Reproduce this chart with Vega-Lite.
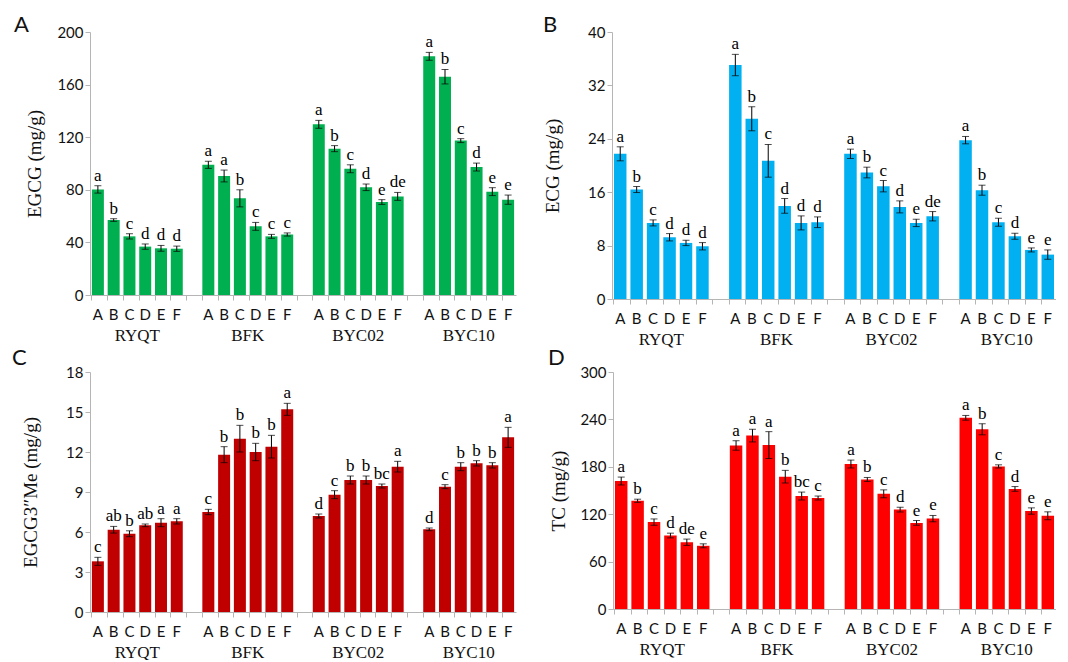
{
"$schema":"https://vega.github.io/schema/vega-lite/v6.json",
"padding":{"left":12,"top":14,"right":0,"bottom":0},
"background":"white",
"data":{"values":[
{"p":"EGCG","g":"RYQT","k":"RYQT_A","m":80.3,"lo":77.5,"hi":83.1,"s":"a"},
{"p":"EGCG","g":"RYQT","k":"RYQT_B","m":57,"lo":56,"hi":58,"s":"b"},
{"p":"EGCG","g":"RYQT","k":"RYQT_C","m":44.6,"lo":42.6,"hi":46.6,"s":"c"},
{"p":"EGCG","g":"RYQT","k":"RYQT_D","m":36.8,"lo":34.8,"hi":38.8,"s":"d"},
{"p":"EGCG","g":"RYQT","k":"RYQT_E","m":35.5,"lo":33.3,"hi":37.7,"s":"d"},
{"p":"EGCG","g":"RYQT","k":"RYQT_F","m":35.2,"lo":33.2,"hi":37.2,"s":"d"},
{"p":"EGCG","g":"BFK","k":"BFK_A","m":99,"lo":96.3,"hi":101.7,"s":"a"},
{"p":"EGCG","g":"BFK","k":"BFK_B","m":90.5,"lo":86,"hi":95,"s":"a"},
{"p":"EGCG","g":"BFK","k":"BFK_C","m":73.5,"lo":67,"hi":80,"s":"b"},
{"p":"EGCG","g":"BFK","k":"BFK_D","m":52.2,"lo":49.2,"hi":55.2,"s":"c"},
{"p":"EGCG","g":"BFK","k":"BFK_E","m":44.6,"lo":43.1,"hi":46.1,"s":"c"},
{"p":"EGCG","g":"BFK","k":"BFK_F","m":46,"lo":44.8,"hi":47.2,"s":"c"},
{"p":"EGCG","g":"BYC02","k":"BYC02_A","m":129.8,"lo":126.8,"hi":132.8,"s":"a"},
{"p":"EGCG","g":"BYC02","k":"BYC02_B","m":111.3,"lo":109,"hi":113.6,"s":"b"},
{"p":"EGCG","g":"BYC02","k":"BYC02_C","m":96,"lo":93,"hi":99,"s":"c"},
{"p":"EGCG","g":"BYC02","k":"BYC02_D","m":81.9,"lo":79.4,"hi":84.4,"s":"d"},
{"p":"EGCG","g":"BYC02","k":"BYC02_E","m":70.7,"lo":68.9,"hi":72.5,"s":"e"},
{"p":"EGCG","g":"BYC02","k":"BYC02_F","m":75,"lo":72,"hi":78,"s":"de"},
{"p":"EGCG","g":"BYC10","k":"BYC10_A","m":181.5,"lo":178.5,"hi":184.5,"s":"a"},
{"p":"EGCG","g":"BYC10","k":"BYC10_B","m":166,"lo":160.5,"hi":171.5,"s":"b"},
{"p":"EGCG","g":"BYC10","k":"BYC10_C","m":117.4,"lo":115.9,"hi":118.9,"s":"c"},
{"p":"EGCG","g":"BYC10","k":"BYC10_D","m":97.3,"lo":94.3,"hi":100.3,"s":"d"},
{"p":"EGCG","g":"BYC10","k":"BYC10_E","m":78.6,"lo":75.6,"hi":81.6,"s":"e"},
{"p":"EGCG","g":"BYC10","k":"BYC10_F","m":72.5,"lo":69,"hi":76,"s":"e"},
{"p":"ECG","g":"RYQT","k":"RYQT_A","m":21.75,"lo":20.7,"hi":22.8,"s":"a"},
{"p":"ECG","g":"RYQT","k":"RYQT_B","m":16.4,"lo":15.95,"hi":16.85,"s":"b"},
{"p":"ECG","g":"RYQT","k":"RYQT_C","m":11.4,"lo":10.95,"hi":11.85,"s":"c"},
{"p":"ECG","g":"RYQT","k":"RYQT_D","m":9.25,"lo":8.7,"hi":9.8,"s":"d"},
{"p":"ECG","g":"RYQT","k":"RYQT_E","m":8.4,"lo":8.0,"hi":8.8,"s":"d"},
{"p":"ECG","g":"RYQT","k":"RYQT_F","m":7.9,"lo":7.35,"hi":8.45,"s":"d"},
{"p":"ECG","g":"BFK","k":"BFK_A","m":35.05,"lo":33.45,"hi":36.65,"s":"a"},
{"p":"ECG","g":"BFK","k":"BFK_B","m":27,"lo":25.2,"hi":28.8,"s":"b"},
{"p":"ECG","g":"BFK","k":"BFK_C","m":20.7,"lo":18.25,"hi":23.15,"s":"c"},
{"p":"ECG","g":"BFK","k":"BFK_D","m":13.95,"lo":12.85,"hi":15.05,"s":"d"},
{"p":"ECG","g":"BFK","k":"BFK_E","m":11.4,"lo":10.35,"hi":12.45,"s":"d"},
{"p":"ECG","g":"BFK","k":"BFK_F","m":11.5,"lo":10.7,"hi":12.3,"s":"d"},
{"p":"ECG","g":"BYC02","k":"BYC02_A","m":21.75,"lo":21.05,"hi":22.45,"s":"a"},
{"p":"ECG","g":"BYC02","k":"BYC02_B","m":18.95,"lo":18.15,"hi":19.75,"s":"b"},
{"p":"ECG","g":"BYC02","k":"BYC02_C","m":16.9,"lo":16.05,"hi":17.75,"s":"c"},
{"p":"ECG","g":"BYC02","k":"BYC02_D","m":13.8,"lo":12.9,"hi":14.7,"s":"d"},
{"p":"ECG","g":"BYC02","k":"BYC02_E","m":11.4,"lo":10.85,"hi":11.95,"s":"e"},
{"p":"ECG","g":"BYC02","k":"BYC02_F","m":12.4,"lo":11.7,"hi":13.1,"s":"de"},
{"p":"ECG","g":"BYC10","k":"BYC10_A","m":23.8,"lo":23.25,"hi":24.35,"s":"a"},
{"p":"ECG","g":"BYC10","k":"BYC10_B","m":16.3,"lo":15.55,"hi":17.05,"s":"b"},
{"p":"ECG","g":"BYC10","k":"BYC10_C","m":11.5,"lo":10.9,"hi":12.1,"s":"c"},
{"p":"ECG","g":"BYC10","k":"BYC10_D","m":9.4,"lo":8.95,"hi":9.85,"s":"d"},
{"p":"ECG","g":"BYC10","k":"BYC10_E","m":7.35,"lo":7.05,"hi":7.65,"s":"e"},
{"p":"ECG","g":"BYC10","k":"BYC10_F","m":6.65,"lo":5.95,"hi":7.35,"s":"e"},
{"p":"Me","g":"RYQT","k":"RYQT_A","m":3.8,"lo":3.5,"hi":4.1,"s":"c"},
{"p":"Me","g":"RYQT","k":"RYQT_B","m":6.17,"lo":5.92,"hi":6.42,"s":"ab"},
{"p":"Me","g":"RYQT","k":"RYQT_C","m":5.87,"lo":5.65,"hi":6.09,"s":"b"},
{"p":"Me","g":"RYQT","k":"RYQT_D","m":6.5,"lo":6.4,"hi":6.6,"s":"ab"},
{"p":"Me","g":"RYQT","k":"RYQT_E","m":6.7,"lo":6.4,"hi":7.0,"s":"a"},
{"p":"Me","g":"RYQT","k":"RYQT_F","m":6.8,"lo":6.6,"hi":7.0,"s":"a"},
{"p":"Me","g":"BFK","k":"BFK_A","m":7.5,"lo":7.3,"hi":7.7,"s":"c"},
{"p":"Me","g":"BFK","k":"BFK_B","m":11.8,"lo":11.2,"hi":12.4,"s":"b"},
{"p":"Me","g":"BFK","k":"BFK_C","m":13.0,"lo":12.0,"hi":14.0,"s":"b"},
{"p":"Me","g":"BFK","k":"BFK_D","m":12.0,"lo":11.35,"hi":12.65,"s":"b"},
{"p":"Me","g":"BFK","k":"BFK_E","m":12.4,"lo":11.55,"hi":13.25,"s":"b"},
{"p":"Me","g":"BFK","k":"BFK_F","m":15.2,"lo":14.75,"hi":15.65,"s":"a"},
{"p":"Me","g":"BYC02","k":"BYC02_A","m":7.2,"lo":7.05,"hi":7.35,"s":"d"},
{"p":"Me","g":"BYC02","k":"BYC02_B","m":8.8,"lo":8.5,"hi":9.1,"s":"c"},
{"p":"Me","g":"BYC02","k":"BYC02_C","m":9.9,"lo":9.6,"hi":10.2,"s":"b"},
{"p":"Me","g":"BYC02","k":"BYC02_D","m":9.9,"lo":9.6,"hi":10.2,"s":"b"},
{"p":"Me","g":"BYC02","k":"BYC02_E","m":9.45,"lo":9.3,"hi":9.6,"s":"bc"},
{"p":"Me","g":"BYC02","k":"BYC02_F","m":10.9,"lo":10.5,"hi":11.3,"s":"a"},
{"p":"Me","g":"BYC10","k":"BYC10_A","m":6.2,"lo":6.1,"hi":6.3,"s":"d"},
{"p":"Me","g":"BYC10","k":"BYC10_B","m":9.4,"lo":9.25,"hi":9.55,"s":"c"},
{"p":"Me","g":"BYC10","k":"BYC10_C","m":10.9,"lo":10.6,"hi":11.2,"s":"b"},
{"p":"Me","g":"BYC10","k":"BYC10_D","m":11.15,"lo":10.95,"hi":11.35,"s":"b"},
{"p":"Me","g":"BYC10","k":"BYC10_E","m":11.0,"lo":10.8,"hi":11.2,"s":"b"},
{"p":"Me","g":"BYC10","k":"BYC10_F","m":13.1,"lo":12.35,"hi":13.85,"s":"a"},
{"p":"TC","g":"RYQT","k":"RYQT_A","m":162,"lo":157,"hi":167,"s":"a"},
{"p":"TC","g":"RYQT","k":"RYQT_B","m":137,"lo":135,"hi":139,"s":"b"},
{"p":"TC","g":"RYQT","k":"RYQT_C","m":110,"lo":106,"hi":114,"s":"c"},
{"p":"TC","g":"RYQT","k":"RYQT_D","m":93,"lo":90,"hi":96,"s":"d"},
{"p":"TC","g":"RYQT","k":"RYQT_E","m":84.5,"lo":80.5,"hi":88.5,"s":"de"},
{"p":"TC","g":"RYQT","k":"RYQT_F","m":80,"lo":77.5,"hi":82.5,"s":"e"},
{"p":"TC","g":"BFK","k":"BFK_A","m":207,"lo":201,"hi":213,"s":"a"},
{"p":"TC","g":"BFK","k":"BFK_B","m":219.5,"lo":211.5,"hi":227.5,"s":"a"},
{"p":"TC","g":"BFK","k":"BFK_C","m":207.5,"lo":190.5,"hi":224.5,"s":"a"},
{"p":"TC","g":"BFK","k":"BFK_D","m":167.5,"lo":159.5,"hi":175.5,"s":"b"},
{"p":"TC","g":"BFK","k":"BFK_E","m":143,"lo":138,"hi":148,"s":"bc"},
{"p":"TC","g":"BFK","k":"BFK_F","m":140.5,"lo":138,"hi":143,"s":"c"},
{"p":"TC","g":"BYC02","k":"BYC02_A","m":183.5,"lo":178.5,"hi":188.5,"s":"a"},
{"p":"TC","g":"BYC02","k":"BYC02_B","m":164,"lo":161.5,"hi":166.5,"s":"b"},
{"p":"TC","g":"BYC02","k":"BYC02_C","m":145.8,"lo":140.8,"hi":150.8,"s":"c"},
{"p":"TC","g":"BYC02","k":"BYC02_D","m":125.8,"lo":122.8,"hi":128.8,"s":"d"},
{"p":"TC","g":"BYC02","k":"BYC02_E","m":109,"lo":106,"hi":112,"s":"e"},
{"p":"TC","g":"BYC02","k":"BYC02_F","m":114.4,"lo":110.4,"hi":118.4,"s":"e"},
{"p":"TC","g":"BYC10","k":"BYC10_A","m":242,"lo":239,"hi":245,"s":"a"},
{"p":"TC","g":"BYC10","k":"BYC10_B","m":227.5,"lo":220.5,"hi":234.5,"s":"b"},
{"p":"TC","g":"BYC10","k":"BYC10_C","m":180.5,"lo":178.5,"hi":182.5,"s":"c"},
{"p":"TC","g":"BYC10","k":"BYC10_D","m":152,"lo":149,"hi":155,"s":"d"},
{"p":"TC","g":"BYC10","k":"BYC10_E","m":124,"lo":120,"hi":128,"s":"e"},
{"p":"TC","g":"BYC10","k":"BYC10_F","m":118,"lo":113,"hi":123,"s":"e"}
]},
"vconcat":[
{"hconcat":[
{"title":{"text":"A","dx":-76,"dy":16},
 "width":426,"height":263,
 "transform":[{"filter":"datum.p==='EGCG'"}],
 "layer":[
  {"layer":[
   {"mark":{"type":"bar","color":"#00b050"},
    "encoding":{"x":{"field":"k","type":"nominal","sort":null,"scale":{"domain":["RYQT_A","RYQT_B","RYQT_C","RYQT_D","RYQT_E","RYQT_F","gap1","BFK_A","BFK_B","BFK_C","BFK_D","BFK_E","BFK_F","gap2","BYC02_A","BYC02_B","BYC02_C","BYC02_D","BYC02_E","BYC02_F","gap3","BYC10_A","BYC10_B","BYC10_C","BYC10_D","BYC10_E","BYC10_F"],"paddingInner":0.24,"paddingOuter":0.12},
      "axis":{"title":null,"labelExpr":"indexof(datum.value,'gap')>=0 ? '' : slice(datum.value,-1)","bandPosition":0,"labelPadding":7,"labelAngle":0,"orient":"bottom"}},
     "y":{"field":"m","type":"quantitative","title":"EGCG (mg/g)","scale":{"domain":[0,200],"nice":false},"axis":{"values":[0,40,80,120,160,200],"labelOverlap":false,"titlePadding":12}}}},
   {"mark":{"type":"errorbar","color":"black","thickness":1,"ticks":{"size":7,"color":"black"}},
    "encoding":{"x":{"field":"k","type":"nominal"},"y":{"field":"lo","type":"quantitative","title":"EGCG (mg/g)","axis":{"values":[0,40,80,120,160,200],"labelOverlap":false,"titlePadding":12}},"y2":{"field":"hi"}}},
   {"mark":{"type":"text","dy":-10,"font":"Liberation Serif","fontSize":17,"color":"black"},
    "encoding":{"x":{"field":"k","type":"nominal"},"y":{"field":"hi","type":"quantitative","title":"EGCG (mg/g)","axis":{"values":[0,40,80,120,160,200],"labelOverlap":false,"titlePadding":12}},"text":{"field":"s"}}}
  ]},
  {"mark":{"type":"rule","strokeOpacity":0},
   "encoding":{"x":{"field":"g","type":"nominal","sort":null,"scale":{"type":"band","domain":["RYQT","BFK","BYC02","BYC10"],"paddingInner":0.142857,"paddingOuter":0},
     "axis":{"title":null,"orient":"bottom","offset":30,"domain":false,"ticks":false,"labelPadding":2,"labelAngle":0,"labelFont":"Liberation Serif","labelFontSize":17}}}}
 ],
 "resolve":{"scale":{"x":"independent"},"axis":{"x":"independent"}}
},
{"title":{"text":"B","dx":-69,"dy":16},
 "width":444,"height":267,
 "transform":[{"filter":"datum.p==='ECG'"}],
 "layer":[
  {"layer":[
   {"mark":{"type":"bar","color":"#00b0f0"},
    "encoding":{"x":{"field":"k","type":"nominal","sort":null,"scale":{"domain":["RYQT_A","RYQT_B","RYQT_C","RYQT_D","RYQT_E","RYQT_F","gap1","BFK_A","BFK_B","BFK_C","BFK_D","BFK_E","BFK_F","gap2","BYC02_A","BYC02_B","BYC02_C","BYC02_D","BYC02_E","BYC02_F","gap3","BYC10_A","BYC10_B","BYC10_C","BYC10_D","BYC10_E","BYC10_F"],"paddingInner":0.24,"paddingOuter":0.12},
      "axis":{"title":null,"labelExpr":"indexof(datum.value,'gap')>=0 ? '' : slice(datum.value,-1)","bandPosition":0,"labelPadding":7,"labelAngle":0,"orient":"bottom"}},
     "y":{"field":"m","type":"quantitative","title":"ECG (mg/g)","scale":{"domain":[0,40],"nice":false},"axis":{"values":[0,8,16,24,32,40],"labelOverlap":false,"titlePadding":25}}}},
   {"mark":{"type":"errorbar","color":"black","thickness":1,"ticks":{"size":7,"color":"black"}},
    "encoding":{"x":{"field":"k","type":"nominal"},"y":{"field":"lo","type":"quantitative","title":"ECG (mg/g)","axis":{"values":[0,8,16,24,32,40],"labelOverlap":false,"titlePadding":25}},"y2":{"field":"hi"}}},
   {"mark":{"type":"text","dy":-10,"font":"Liberation Serif","fontSize":17,"color":"black"},
    "encoding":{"x":{"field":"k","type":"nominal"},"y":{"field":"hi","type":"quantitative","title":"ECG (mg/g)","axis":{"values":[0,8,16,24,32,40],"labelOverlap":false,"titlePadding":25}},"text":{"field":"s"}}}
  ]},
  {"mark":{"type":"rule","strokeOpacity":0},
   "encoding":{"x":{"field":"g","type":"nominal","sort":null,"scale":{"type":"band","domain":["RYQT","BFK","BYC02","BYC10"],"paddingInner":0.142857,"paddingOuter":0},
     "axis":{"title":null,"orient":"bottom","offset":30,"domain":false,"ticks":false,"labelPadding":2,"labelAngle":0,"labelFont":"Liberation Serif","labelFontSize":17}}}}
 ],
 "resolve":{"scale":{"x":"independent"},"axis":{"x":"independent"}}
}
],"spacing":27},
{"hconcat":[
{"title":{"text":"C","dx":-78,"dy":9},
 "width":426,"height":240,
 "transform":[{"filter":"datum.p==='Me'"}],
 "layer":[
  {"layer":[
   {"mark":{"type":"bar","color":"#c00000"},
    "encoding":{"x":{"field":"k","type":"nominal","sort":null,"scale":{"domain":["RYQT_A","RYQT_B","RYQT_C","RYQT_D","RYQT_E","RYQT_F","gap1","BFK_A","BFK_B","BFK_C","BFK_D","BFK_E","BFK_F","gap2","BYC02_A","BYC02_B","BYC02_C","BYC02_D","BYC02_E","BYC02_F","gap3","BYC10_A","BYC10_B","BYC10_C","BYC10_D","BYC10_E","BYC10_F"],"paddingInner":0.24,"paddingOuter":0.12},
      "axis":{"title":null,"labelExpr":"indexof(datum.value,'gap')>=0 ? '' : slice(datum.value,-1)","bandPosition":0,"labelPadding":7,"labelAngle":0,"orient":"bottom"}},
     "y":{"field":"m","type":"quantitative","title":"EGCG3″Me (mg/g)","scale":{"domain":[0,18],"nice":false},"axis":{"values":[0,3,6,9,12,15,18],"labelOverlap":false,"titlePadding":25}}}},
   {"mark":{"type":"errorbar","color":"black","thickness":1,"ticks":{"size":7,"color":"black"}},
    "encoding":{"x":{"field":"k","type":"nominal"},"y":{"field":"lo","type":"quantitative","title":"EGCG3″Me (mg/g)","axis":{"values":[0,3,6,9,12,15,18],"labelOverlap":false,"titlePadding":25}},"y2":{"field":"hi"}}},
   {"mark":{"type":"text","dy":-10,"font":"Liberation Serif","fontSize":17,"color":"black"},
    "encoding":{"x":{"field":"k","type":"nominal"},"y":{"field":"hi","type":"quantitative","title":"EGCG3″Me (mg/g)","axis":{"values":[0,3,6,9,12,15,18],"labelOverlap":false,"titlePadding":25}},"text":{"field":"s"}}}
  ]},
  {"mark":{"type":"rule","strokeOpacity":0},
   "encoding":{"x":{"field":"g","type":"nominal","sort":null,"scale":{"type":"band","domain":["RYQT","BFK","BYC02","BYC10"],"paddingInner":0.142857,"paddingOuter":0},
     "axis":{"title":null,"orient":"bottom","offset":30,"domain":false,"ticks":false,"labelPadding":2,"labelAngle":0,"labelFont":"Liberation Serif","labelFontSize":17}}}}
 ],
 "resolve":{"scale":{"x":"independent"},"axis":{"x":"independent"}}
},
{"title":{"text":"D","dx":-65,"dy":9},
 "width":443,"height":237,
 "transform":[{"filter":"datum.p==='TC'"}],
 "layer":[
  {"layer":[
   {"mark":{"type":"bar","color":"#ff0000"},
    "encoding":{"x":{"field":"k","type":"nominal","sort":null,"scale":{"domain":["RYQT_A","RYQT_B","RYQT_C","RYQT_D","RYQT_E","RYQT_F","gap1","BFK_A","BFK_B","BFK_C","BFK_D","BFK_E","BFK_F","gap2","BYC02_A","BYC02_B","BYC02_C","BYC02_D","BYC02_E","BYC02_F","gap3","BYC10_A","BYC10_B","BYC10_C","BYC10_D","BYC10_E","BYC10_F"],"paddingInner":0.24,"paddingOuter":0.12},
      "axis":{"title":null,"labelExpr":"indexof(datum.value,'gap')>=0 ? '' : slice(datum.value,-1)","bandPosition":0,"labelPadding":7,"labelAngle":0,"orient":"bottom"}},
     "y":{"field":"m","type":"quantitative","title":"TC (mg/g)","scale":{"domain":[0,300],"nice":false},"axis":{"values":[0,60,120,180,240,300],"labelOverlap":false,"titlePadding":11}}}},
   {"mark":{"type":"errorbar","color":"black","thickness":1,"ticks":{"size":7,"color":"black"}},
    "encoding":{"x":{"field":"k","type":"nominal"},"y":{"field":"lo","type":"quantitative","title":"TC (mg/g)","axis":{"values":[0,60,120,180,240,300],"labelOverlap":false,"titlePadding":11}},"y2":{"field":"hi"}}},
   {"mark":{"type":"text","dy":-10,"font":"Liberation Serif","fontSize":17,"color":"black"},
    "encoding":{"x":{"field":"k","type":"nominal"},"y":{"field":"hi","type":"quantitative","title":"TC (mg/g)","axis":{"values":[0,60,120,180,240,300],"labelOverlap":false,"titlePadding":11}},"text":{"field":"s"}}}
  ]},
  {"mark":{"type":"rule","strokeOpacity":0},
   "encoding":{"x":{"field":"g","type":"nominal","sort":null,"scale":{"type":"band","domain":["RYQT","BFK","BYC02","BYC10"],"paddingInner":0.142857,"paddingOuter":0},
     "axis":{"title":null,"orient":"bottom","offset":30,"domain":false,"ticks":false,"labelPadding":2,"labelAngle":0,"labelFont":"Liberation Serif","labelFontSize":17}}}}
 ],
 "resolve":{"scale":{"x":"independent"},"axis":{"x":"independent"}}
}
],"spacing":32}
],
"spacing":0,
"config":{
 "view":{"stroke":null},
 "axis":{"grid":false,"labelOverlap":false,"domainColor":"#b5b5b5","tickColor":"#b5b5b5","tickSize":5,"labelFont":"Lato","labelFontSize":15,"labelColor":"#111111","titleFont":"Liberation Serif","titleFontSize":19,"titleFontWeight":"normal","titleColor":"#111111"},
 "title":{"anchor":"start","frame":"group","font":"Lato","fontSize":22,"fontWeight":"normal","color":"#111111","offset":0}
}
}
